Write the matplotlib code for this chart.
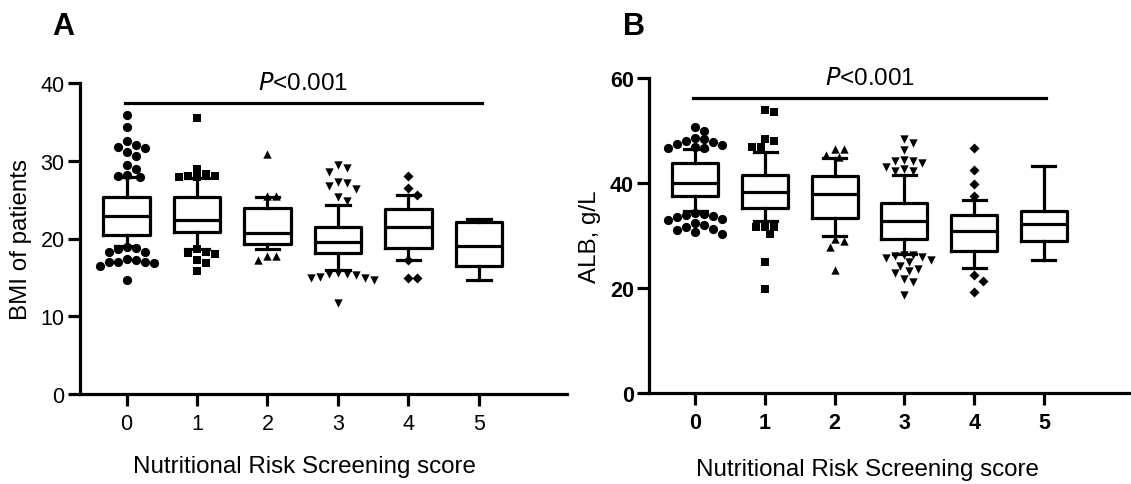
import numpy as np
import matplotlib.pyplot as plt

plt.rcParams['font.family'] = ['Liberation Sans', 'DejaVu Sans']

groups = [0, 1, 2, 3, 4, 5]
tick_labels = ['0', '1', '2', '3', '4', '5']
markers = ['o', 's', '^', 'v', 'D', None]
msizes = [44, 36, 36, 36, 26, 0]

# A - BMI (box stats)
bmi_med = [22.9, 22.4, 20.7, 19.6, 21.5, 19.0]
bmi_q1 = [20.5, 20.9, 19.3, 18.1, 18.8, 16.5]
bmi_q3 = [25.3, 25.3, 23.9, 21.5, 23.8, 22.1]
bmi_lo = [19.0, 18.6, 18.6, 16.0, 17.2, 14.7]
bmi_hi = [27.9, 27.8, 25.4, 24.3, 25.6, 22.5]
bmi_out0 = [35.9, 34.4, 32.6, 32.0, 31.8, 31.6, 31.1, 30.6, 29.4, 28.9, 28.2, 28.1, 27.9,
            18.9, 18.8, 18.7, 18.3, 18.2, 17.4, 17.2, 17.0, 17.0, 17.0, 16.9, 16.5, 14.7]
bmi_out1 = [35.5, 29.0, 28.3, 28.1, 28.0, 27.9, 27.9, 18.6, 18.2, 18.1, 18.0, 17.2, 16.9, 15.8]
bmi_out2 = [30.9, 25.5, 25.5, 17.7, 17.7, 17.2]
bmi_out3 = [29.4, 29.1, 28.6, 27.3, 27.1, 26.7, 26.4, 25.3, 24.8,
            15.5, 15.4, 15.4, 15.3, 15.0, 14.9, 14.9, 14.6, 11.7]
bmi_out4 = [28.0, 26.5, 25.6, 17.2, 14.9, 14.9]
bmi_out5 = []

# B - ALB
alb_med = [40.1, 38.4, 37.9, 32.7, 30.9, 32.3]
alb_q1 = [37.6, 35.3, 33.3, 29.4, 27.1, 28.9]
alb_q3 = [43.8, 41.5, 41.4, 36.2, 33.9, 34.7]
alb_lo = [34.6, 32.7, 30.0, 26.6, 23.8, 25.4]
alb_hi = [46.4, 46.0, 44.7, 41.5, 36.7, 43.2]
alb_out0 = [50.7, 50.0, 48.5, 48.3, 48.0, 47.9, 47.5, 47.2, 46.8, 46.7, 46.6,
            34.3, 34.2, 34.0, 33.8, 33.5, 33.2, 32.9, 32.4, 32.0, 31.7, 31.3, 31.0, 30.7, 30.4]
alb_out1 = [54.0, 53.6, 48.3, 48.1, 46.8, 46.8, 31.7, 31.7, 31.7, 30.3, 24.9, 19.8]
alb_out2 = [46.5, 46.5, 45.3, 44.9, 29.4, 28.9, 27.8, 23.5]
alb_out3 = [48.4, 47.7, 46.3, 44.4, 44.2, 44.2, 43.9, 43.0, 42.7, 42.3, 42.3,
            26.4, 26.3, 26.1, 26.0, 25.8, 25.4, 24.9, 24.3, 23.6, 23.2, 22.8, 21.7, 21.2, 18.7]
alb_out4 = [46.6, 42.4, 39.9, 37.5, 22.5, 21.4, 19.2]
alb_out5 = []

LW = 2.3


def swarm_x(ax, x0, vals, d):
    # simple beeswarm in pixel space so that markers do not overlap
    if len(vals) == 0:
        return np.array([])
    pts = ax.transData.transform(np.column_stack([np.full(len(vals), x0), vals]))
    px0 = pts[0, 0]
    cands = [0.0]
    for k in range(1, 30):
        cands += [k * d * 0.5, -k * d * 0.5]
    placed = []
    xs = []
    for _, py in pts:
        for c in cands:
            ok = all((c - qx) ** 2 + (py - qy) ** 2 >= (0.95 * d) ** 2 for qx, qy in placed)
            if ok:
                placed.append((c, py))
                xs.append(px0 + c)
                break
    back = ax.transData.inverted().transform(np.column_stack([xs, pts[:, 1]]))
    return back[:, 0]


def panel(ax, med, q1, q3, lo, hi, outs, ylim, yticks, d, bold):
    ax.set_xlim(-0.66, 6.25)
    ax.set_ylim(*ylim)
    stats = [dict(med=med[i], q1=q1[i], q3=q3[i], whislo=lo[i], whishi=hi[i], fliers=[])
             for i in range(len(groups))]
    lp = dict(color='black', linewidth=LW)
    ax.bxp(stats, positions=groups, widths=0.66, capwidths=0.33, showfliers=False,
           boxprops=lp, medianprops=lp, whiskerprops=lp, capprops=lp, manage_ticks=False)
    for i, vals in enumerate(outs):
        if markers[i] is None or len(vals) == 0:
            continue
        xs = swarm_x(ax, groups[i], vals, d)
        ax.scatter(xs, vals, marker=markers[i], s=msizes[i], color='black',
                   linewidths=0, zorder=3, clip_on=False)
    for s in ['top', 'right']:
        ax.spines[s].set_visible(False)
    for s in ['left', 'bottom']:
        ax.spines[s].set_linewidth(LW)
    ax.set_xticks(groups)
    ax.set_yticks(yticks)
    wt = 'bold' if bold else 'normal'
    fam = ['Liberation Sans Narrow', 'Liberation Sans'] if bold else ['Liberation Sans']
    fs = 15.5
    ax.set_xticklabels(tick_labels, fontsize=fs, fontweight=wt, family=fam)
    ax.set_yticklabels([str(t) for t in yticks], fontsize=fs, fontweight=wt, family=fam)
    ax.tick_params(axis='both', direction='out', length=8.5, width=LW)
    ax.tick_params(axis='x', pad=5)
    ax.tick_params(axis='y', pad=2.5)


fig = plt.figure(figsize=(11.31, 4.85), dpi=100)
W, H = 1131, 485

axA = fig.add_axes([80 / W, (H - 395) / H, 487 / W, 311 / H])
panel(axA, bmi_med, bmi_q1, bmi_q3, bmi_lo, bmi_hi,
      [bmi_out0, bmi_out1, bmi_out2, bmi_out3, bmi_out4, bmi_out5],
      (0, 40), [0, 10, 20, 30, 40], 9, False)
axA.plot([-0.02, 5.04], [37.4, 37.4], color='black', lw=LW, clip_on=False)
axA.text(2.5, 38.6, r'$\it{P}$<0.001', ha='center', va='bottom', fontsize=17.4)
axA.set_ylabel('BMI of patients', fontsize=17.4)
axA.yaxis.set_label_coords(-0.098, 0.5)
axA.set_xlabel('Nutritional Risk Screening score', fontsize=17.4, va='top')
axA.xaxis.set_label_coords(0.461, -0.195)

axB = fig.add_axes([649.3 / W, (H - 394.3) / H, 481.7 / W, 315.3 / H])
panel(axB, alb_med, alb_q1, alb_q3, alb_lo, alb_hi,
      [alb_out0, alb_out1, alb_out2, alb_out3, alb_out4, alb_out5],
      (0, 60), [0, 20, 40, 60], 9, True)
axB.plot([-0.04, 5.03], [56.1, 56.1], color='black', lw=LW, clip_on=False)
axB.text(2.5, 57.9, r'$\it{P}$<0.001', ha='center', va='bottom', fontsize=17.4, clip_on=False)
axB.set_ylabel('ALB, g/L', fontsize=17.4)
axB.yaxis.set_label_coords(-0.1, 0.5)
axB.set_xlabel('Nutritional Risk Screening score', fontsize=17.4, va='top')
axB.xaxis.set_label_coords(0.452, -0.205)

fig.text(52 / W, 1 - 35 / H, 'A', fontsize=22, fontweight='bold', ha='left', va='baseline')
fig.text(623 / W, 1 - 35 / H, 'B', fontsize=22, fontweight='bold', ha='left', va='baseline')

fig.savefig('out.png', dpi=100)
